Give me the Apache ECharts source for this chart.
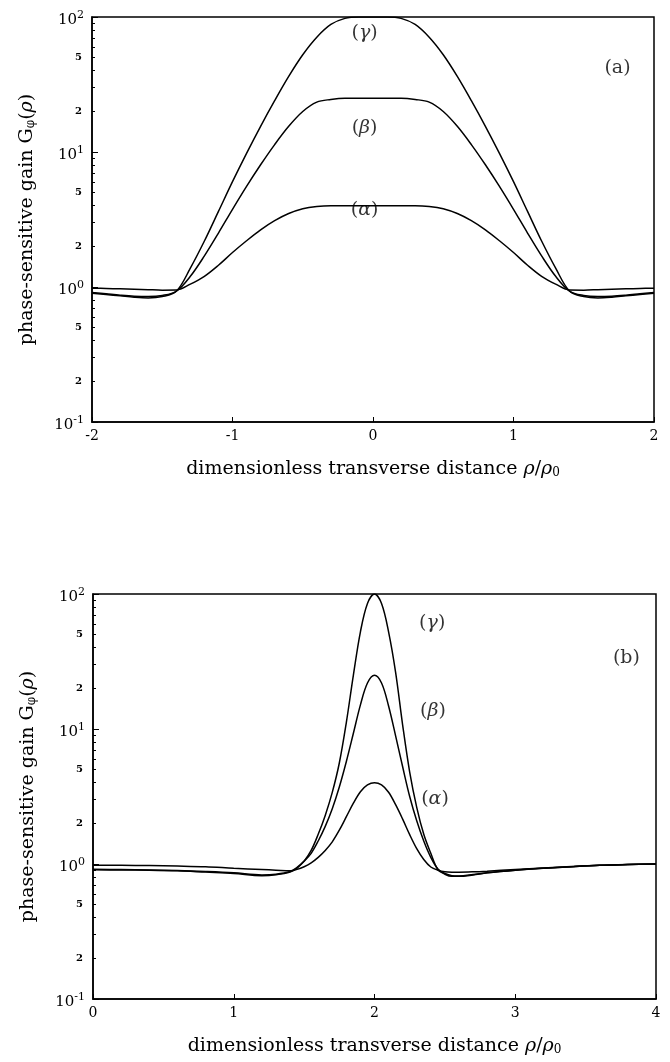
<!DOCTYPE html>
<html>
<head>
<meta charset="utf-8">
<script src="https://cdn.jsdelivr.net/npm/echarts@6/dist/echarts.min.js"></script>
<style>
  html, body { margin: 0; padding: 0; background: #fff; }
  #chart { width: 670px; height: 1062px; }
</style>
</head>
<body>
<div id="chart"></div>
<script>
// panel (a): flat-top pump, x = rho/rho0 from -2 to 2
var xA = [-2, -1.9, -1.8, -1.7, -1.6, -1.5, -1.4, -1.3, -1.2, -1.1, -1.0, -0.9, -0.8, -0.7, -0.6, -0.5, -0.4, -0.3, -0.2, -0.1, 0,
          0.1, 0.2, 0.3, 0.4, 0.5, 0.6, 0.7, 0.8, 0.9, 1.0, 1.1, 1.2, 1.3, 1.4, 1.5, 1.6, 1.7, 1.8, 1.9, 2];
var alphaA = [0.98, 0.975, 0.97, 0.963, 0.955, 0.948, 0.95, 1.05, 1.2, 1.45, 1.8, 2.2, 2.65, 3.1, 3.5, 3.8, 3.95, 4.0, 4.0, 4.0, 4.0,
              4.0, 4.0, 4.0, 3.95, 3.8, 3.5, 3.1, 2.65, 2.2, 1.8, 1.45, 1.2, 1.05, 0.95, 0.948, 0.955, 0.963, 0.97, 0.975, 0.98];
var betaA = [0.91, 0.89, 0.87, 0.855, 0.85, 0.865, 0.93, 1.2, 1.7, 2.51, 3.76, 5.56, 8.04, 11.35, 15.5, 19.95, 23.4, 24.5, 25, 25, 25,
             25, 25, 24.5, 23.4, 19.95, 15.5, 11.35, 8.04, 5.56, 3.76, 2.51, 1.7, 1.2, 0.93, 0.865, 0.85, 0.855, 0.87, 0.89, 0.91];
var gammaA = [0.9, 0.88, 0.86, 0.84, 0.83, 0.85, 0.93, 1.38, 2.19, 3.63, 6.03, 9.77, 15.5, 24, 36.3, 52.5, 70.8, 88, 97.7, 100, 100,
              100, 97.7, 88, 70.8, 52.5, 36.3, 24, 15.5, 9.77, 6.03, 3.63, 2.19, 1.38, 0.93, 0.85, 0.83, 0.84, 0.86, 0.88, 0.9];

// panel (b): narrow peak centred at rho/rho0 = 2
var xB = [0, 0.2, 0.4, 0.6, 0.8, 1.0, 1.2, 1.3, 1.4, 1.45, 1.5, 1.55, 1.6, 1.65, 1.7, 1.75, 1.8, 1.85, 1.9, 1.95, 2.0,
          2.05, 2.1, 2.15, 2.2, 2.25, 2.3, 2.35, 2.4, 2.45, 2.5, 2.55, 2.6, 2.7, 2.8, 3.0, 3.2, 3.4, 3.6, 3.8, 4.0];
var alphaB = [0.98, 0.977, 0.973, 0.966, 0.955, 0.93, 0.91, 0.9, 0.89, 0.912, 0.955, 1.02, 1.12, 1.26, 1.46, 1.78, 2.24, 2.82, 3.43, 3.85, 4.0,
              3.85, 3.4, 2.75, 2.15, 1.65, 1.3, 1.08, 0.95, 0.9, 0.875, 0.87, 0.87, 0.875, 0.885, 0.91, 0.935, 0.96, 0.98, 0.99, 1.0];
var betaB = [0.915, 0.91, 0.904, 0.895, 0.88, 0.86, 0.83, 0.84, 0.88, 0.944, 1.05, 1.2, 1.48, 1.9, 2.57, 3.72, 5.75, 9.3, 15.1, 21.9, 25,
             21.9, 14.8, 8.9, 5.25, 3.16, 2.09, 1.48, 1.12, 0.92, 0.85, 0.82, 0.816, 0.836, 0.863, 0.9, 0.93, 0.955, 0.977, 0.99, 1.0];
var gammaB = [0.905, 0.903, 0.9, 0.891, 0.871, 0.851, 0.82, 0.832, 0.871, 0.933, 1.05, 1.26, 1.66, 2.29, 3.39, 5.6, 11.2, 25.1, 52.5, 85.1, 100,
              85.1, 52.5, 26.3, 10.7, 4.8, 2.63, 1.66, 1.2, 0.91, 0.84, 0.81, 0.81, 0.83, 0.86, 0.9, 0.93, 0.955, 0.977, 0.99, 1.0];

// in-between tick labels on each decade
var minorLabelDigits = [2, 5];

// curve labels, placed in data coordinates [x, G]
var notesA = [['({it|γ})', -0.06, 76], ['({it|β})', -0.06, 15.1], ['({it|α})', -0.06, 3.72], ['(a)', 1.74, 41.9]];
var notesB = [['({it|γ})', 2.41, 61], ['({it|β})', 2.415, 13.6], ['({it|α})', 2.43, 3.03], ['(b)', 3.79, 33.6]];

var serif = '"DejaVu Serif", "Liberation Serif", serif';

function zip(xs, ys) {
    return xs.map(function (x, i) { return [x, ys[i]]; });
}
function log10(v) { return Math.log(v) / Math.LN10; }

var minorTicks = [], minorLabels = [];
[-1, 0, 1].forEach(function (e) {
    for (var k = 2; k <= 9; k++) minorTicks.push(e + log10(k));
    minorLabelDigits.forEach(function (k) { minorLabels.push(e + log10(k)); });
});

var richText = {
    it: { fontFamily: serif, fontStyle: 'italic', fontSize: 19, color: '#000' },
    sub0: { fontFamily: serif, fontSize: 12, color: '#000', verticalAlign: 'bottom', lineHeight: 12, padding: [8, 0, 0, 0] }
};

function yAxes(gi) {
    return [{
        type: 'log', logBase: 10, min: 0.1, max: 100, gridIndex: gi,
        axisLine: { show: true, onZero: false, lineStyle: { color: '#000', width: 1.5 } },
        axisTick: { inside: true, length: 6, lineStyle: { color: '#000', width: 1 } },
        splitLine: { show: false },
        axisLabel: {
            margin: 8, padding: [4, 0, 0, 0],
            formatter: function (v) { return '{b|10}{sup|' + Math.round(log10(v)) + '}'; },
            rich: {
                b: { fontFamily: serif, fontSize: 15, color: '#000', lineHeight: 18, verticalAlign: 'bottom' },
                sup: { fontFamily: serif, fontSize: 11, color: '#000', lineHeight: 11, verticalAlign: 'top' }
            }
        },
        name: 'phase-sensitive gain G{sub0|φ}({it|ρ})',
        nameLocation: 'middle', nameGap: 55,
        nameTextStyle: { fontFamily: serif, fontSize: 19, color: '#000', rich: richText }
    }, {
        type: 'value', min: -1, max: 2, gridIndex: gi, position: 'left',
        axisLine: { show: false, onZero: false },
        axisTick: { inside: true, length: 3, customValues: minorTicks, lineStyle: { color: '#000', width: 1 } },
        axisLabel: {
            customValues: minorLabels, margin: 10,
            fontFamily: serif, fontSize: 10, fontWeight: 'bold', color: '#000',
            formatter: function (v) { return String(Math.round(Math.pow(10, v - Math.floor(v + 1e-9)))); }
        },
        splitLine: { show: false }
    }];
}

function xAxis(gi, lo, hi) {
    return {
        type: 'value', min: lo, max: hi, interval: 1, gridIndex: gi,
        axisLine: { show: true, onZero: false, lineStyle: { color: '#000', width: 1.5 } },
        axisTick: { inside: true, length: 5, lineStyle: { color: '#000', width: 1 } },
        splitLine: { show: false },
        axisLabel: { margin: 7, fontFamily: serif, fontSize: 14, color: '#000' },
        name: 'dimensionless transverse distance {it|ρ}/{it|ρ}{sub0|0}',
        nameLocation: 'middle', nameGap: 38,
        nameTextStyle: { fontFamily: serif, fontSize: 19, color: '#000', rich: richText }
    };
}

function curve(xs, ys, gi) {
    return {
        type: 'line', xAxisIndex: gi, yAxisIndex: gi * 2, data: zip(xs, ys),
        symbol: 'none', smooth: 0.35, silent: true,
        lineStyle: { color: '#000', width: 1.5 }
    };
}

function notes(list, gi) {
    return {
        type: 'scatter', xAxisIndex: gi, yAxisIndex: gi * 2, symbolSize: 0, silent: true,
        data: list.map(function (n) { return { name: n[0], value: [n[1], n[2]] }; }),
        label: {
            show: true, position: 'inside', formatter: '{b}',
            fontFamily: serif, fontSize: 19, color: '#000',
            rich: { it: { fontFamily: serif, fontStyle: 'italic', fontSize: 19, color: '#000' } }
        }
    };
}

var chart = echarts.init(document.getElementById('chart'));
var option = {
    animation: false,
    backgroundColor: '#fff',
    grid: [
        { left: 92, top: 17, width: 562, height: 405, show: true, borderColor: '#000', borderWidth: 1.5 },
        { left: 93, top: 594, width: 563, height: 405, show: true, borderColor: '#000', borderWidth: 1.5 }
    ],
    xAxis: [xAxis(0, -2, 2), xAxis(1, 0, 4)],
    yAxis: yAxes(0).concat(yAxes(1)),
    series: [
        curve(xA, alphaA, 0), curve(xA, betaA, 0), curve(xA, gammaA, 0),
        curve(xB, alphaB, 1), curve(xB, betaB, 1), curve(xB, gammaB, 1),
        notes(notesA, 0), notes(notesB, 1)
    ]
};
chart.setOption(option);
</script>
</body>
</html>
